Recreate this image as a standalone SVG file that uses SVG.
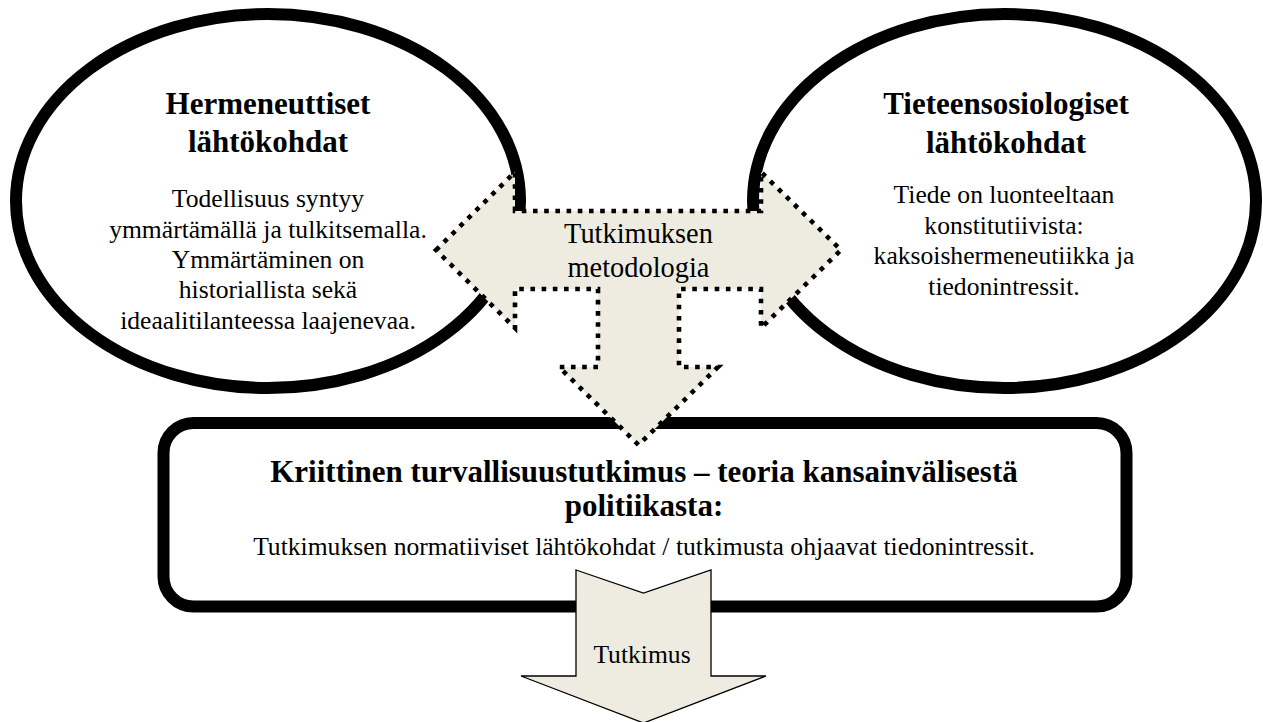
<svg xmlns="http://www.w3.org/2000/svg" width="1263" height="722" viewBox="0 0 1263 722">
  <style>
    .oval { fill: #ffffff; stroke: #000000; stroke-width: 12; }
    .box { fill: #ffffff; stroke: #000000; stroke-width: 12; }
    .dotted { fill: #EEECE1; stroke: #000000; stroke-width: 4.6; stroke-dasharray: 4.6 6.6; stroke-linejoin: miter; }
    .solid { fill: #EEECE1; stroke: #000000; stroke-width: 1.3; }
    text { font-family: "Liberation Serif", "Times New Roman", serif; fill: #000000; text-anchor: middle; }
    .title { font-size: 31px; font-weight: bold; }
    .body { font-size: 25.6px; }
    .lbl { font-size: 28.4px; }
  </style>
  <rect x="0" y="0" width="1263" height="722" fill="#ffffff"/>
  <g id="node-hermeneuttiset">
    <ellipse class="oval" cx="268" cy="201" rx="252" ry="187"/>
    <text class="title" x="268" y="114">Hermeneuttiset</text>
    <text class="title" x="268" y="152">lähtökohdat</text>
    <text class="body" x="268" y="207">Todellisuus syntyy</text>
    <text class="body" x="268" y="237.5">ymmärtämällä ja tulkitsemalla.</text>
    <text class="body" x="268" y="268">Ymmärtäminen on</text>
    <text class="body" x="268" y="298">historiallista sekä</text>
    <text class="body" x="268" y="328.5">ideaalitilanteessa laajenevaa.</text>
  </g>
  <g id="node-tieteensosiologiset">
    <ellipse class="oval" cx="1004.5" cy="201" rx="251.5" ry="187"/>
    <text class="title" x="1006" y="114">Tieteensosiologiset</text>
    <text class="title" x="1006" y="152.5">lähtökohdat</text>
    <text class="body" x="1004" y="203">Tiede on luonteeltaan</text>
    <text class="body" x="1004" y="233.5">konstitutiivista:</text>
    <text class="body" x="1004" y="264">kaksoishermeneutiikka ja</text>
    <text class="body" x="1004" y="294.5">tiedonintressit.</text>
  </g>
  <g id="node-kriittinen">
    <rect class="box" x="163.5" y="423" width="963" height="183.5" rx="30" ry="30"/>
    <text class="title" x="644" y="482">Kriittinen turvallisuustutkimus – teoria kansainvälisestä</text>
    <text class="title" x="644" y="516">politiikasta:</text>
    <text class="body" x="644" y="555">Tutkimuksen normatiiviset lähtökohdat / tutkimusta ohjaavat tiedonintressit.</text>
  </g>
  <g id="connectors">
    <g id="arrow-metodologia">
      <path class="dotted" d="M436,250 L515,172 L515,211 L761,211 L761,172 L841,250 L761,328 L761,289 L679,289 L679,367 L718,367 L638.5,445 L559,367 L598,367 L598,289 L515,289 L515,328 Z"/>
      <text class="lbl" x="638.5" y="243">Tutkimuksen</text>
      <text class="lbl" x="638.5" y="277">metodologia</text>
    </g>
    <g id="arrow-tutkimus">
      <path class="solid" d="M576,570 L643.5,593 L711,570 L711,676 L766,676 L643.5,723 L521,676 L576,676 Z"/>
      <text class="body" x="642" y="662.7">Tutkimus</text>
    </g>
  </g>
</svg>
